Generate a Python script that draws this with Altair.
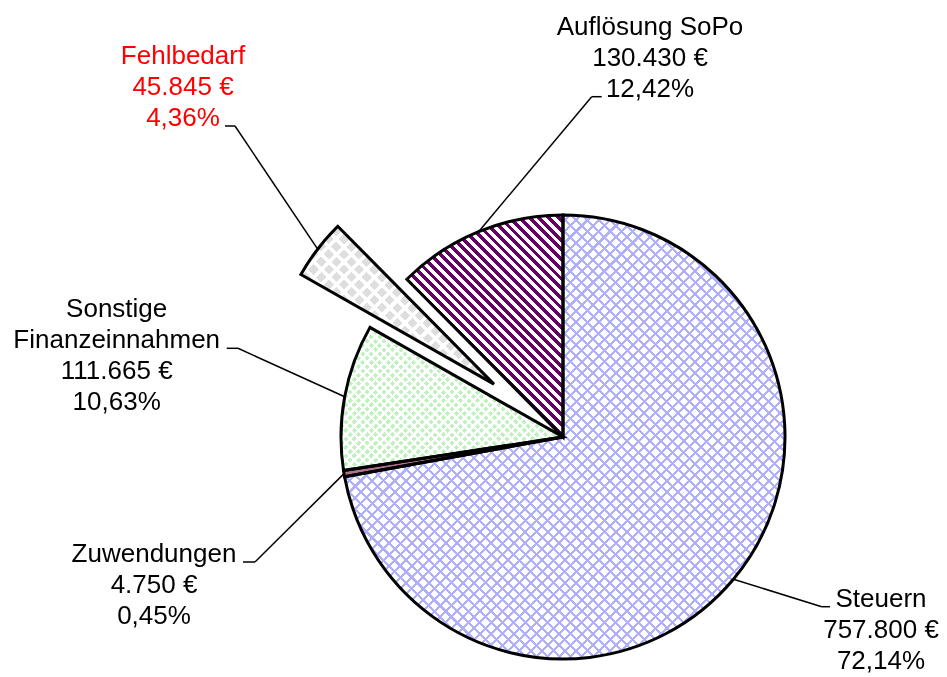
import math
import altair as alt
import pandas as pd

# ---------------- data ----------------
categories = ["Steuern", "Zuwendungen", "Sonstige Finanzeinnahmen", "Fehlbedarf", "Auflösung SoPo"]
label_names = ["Steuern", "Zuwendungen", "Sonstige\nFinanzeinnahmen", "Fehlbedarf", "Auflösung SoPo"]
values = [757800, 4750, 111665, 45845, 130430]

# ---------------- layout / style ----------------
W, H = 931, 669
CX, CY, R = 555, 429, 222
explode = {"Fehlbedarf": 87}
text_colors = {"Fehlbedarf": "#ff0000"}
# label anchor (text centre x, first baseline y), leader elbow, leader end
label_layout = {
    "Steuern":                  (873, 599,   813.7, 598.7, 822.0, 598.7),
    "Zuwendungen":              (146, 553.7, 247.0, 554.0, 235.0, 554.0),
    "Sonstige Finanzeinnahmen": (108.7, 308.7, 230.0, 340.3, 218.7, 340.3),
    "Fehlbedarf":               (175, 56.3,  227.0, 118.0, 217.0, 118.0),
    "Auflösung SoPo":           (642, 27,    583.7, 88.7, 593.7, 88.7),
}
base_fills = ["#ffffff", "#b0708f", "#ffffff", "#ffffff", "#ffffff"]

total = sum(values)


def de_int(v):
    return f"{v:,}".replace(",", ".")


def de_pct(v):
    return f"{v / total * 100:.2f}".replace(".", ",") + "%"


rows = []
for i, (c, ln, v) in enumerate(zip(categories, label_names, values)):
    tx, ty, ex, ey, hx, hy = label_layout[c]
    rows.append(dict(cat=c, order=i, value=v,
                     label=f"{ln}\n{de_int(v)} €\n{de_pct(v)}",
                     explode=explode.get(c, 0), tx=tx, ty=ty, ex=ex, ey=ey, hx=hx, hy=hy,
                     tcolor=text_colors.get(c, "#000000")))
df = pd.DataFrame(rows)

# slice angles (only used to size the fill patterns to each slice's box)
angles = {}
_cum = 0
for c, v in zip(categories, values):
    a0 = 2 * math.pi * _cum / total
    _cum += v
    angles[c] = (a0, 2 * math.pi * _cum / total)


def bbox_dims(a0, a1, r):
    pts = [(0.0, 0.0), (r * math.sin(a0), -r * math.cos(a0)), (r * math.sin(a1), -r * math.cos(a1))]
    for k in range(5):
        a = k * math.pi / 2
        if a0 < a < a1:
            pts.append((r * math.sin(a), -r * math.cos(a)))
    xs = [p[0] for p in pts]
    ys = [p[1] for p in pts]
    return max(xs) - min(xs), max(ys) - min(ys)


def stripes(on, off, n, frac, x1, y1, x2, y2):
    stops = []
    for i in range(n):
        a = i / n
        b = (i + frac) / n
        c = (i + 1) / n
        stops += [alt.GradientStop(offset=round(a, 5), color=on),
                  alt.GradientStop(offset=round(b, 5), color=on),
                  alt.GradientStop(offset=round(b, 5), color=off),
                  alt.GradientStop(offset=round(c, 5), color=off)]
    return alt.LinearGradient(gradient="linear", stops=stops, x1=x1, y1=y1, x2=x2, y2=y2)


def stripe_fill(cat, phi_deg, period, duty, on, off):
    w, h = bbox_dims(*angles[cat], R)
    phi = math.radians(phi_deg)
    g = (math.sin(phi) / h, -math.cos(phi) / w)
    corners = [(0, 0), (1, 0), (0, 1), (1, 1)]
    proj = [px * g[0] + py * g[1] for px, py in corners]
    tmin, tmax = min(proj), max(proj)
    s = corners[proj.index(tmin)]
    gg = g[0] ** 2 + g[1] ** 2
    e = (s[0] + g[0] * (tmax - tmin) / gg, s[1] + g[1] * (tmax - tmin) / gg)
    nrm = (-math.sin(phi), math.cos(phi))
    pp = [px * w * nrm[0] + py * h * nrm[1] for px, py in corners]
    count = max(1, round((max(pp) - min(pp)) / period))
    return stripes(on, off, count, duty, round(s[0], 5), round(s[1], 5), round(e[0], 5), round(e[1], 5))


base = (
    alt.Chart(df)
    .transform_joinaggregate(total="sum(value)")
    .transform_window(cum="sum(value)", sort=[alt.SortField("order")], frame=[None, 0])
    .transform_calculate(a1="2*PI*datum.cum/datum.total")
    .transform_calculate(a0="2*PI*(datum.cum-datum.value)/datum.total")
    .transform_calculate(mid="(datum.a0+datum.a1)/2")
    .transform_calculate(cx=f"{CX}+datum.explode*sin(datum.mid)")
    .transform_calculate(cy=f"{CY}-datum.explode*cos(datum.mid)")
    .transform_calculate(sx=f"datum.cx+{R}*sin(datum.mid)")
    .transform_calculate(sy=f"datum.cy-{R}*cos(datum.mid)")
)

arc_enc = dict(
    x=alt.X("cx:Q", scale=None),
    y=alt.Y("cy:Q", scale=None),
    theta=alt.Theta("a0:Q", scale=None),
    theta2=alt.Theta2("a1:Q"),
)

fill_layer = base.mark_arc(outerRadius=R, strokeWidth=0).encode(
    fill=alt.Fill("cat:N", scale=alt.Scale(domain=categories, range=base_fills), legend=None),
    **arc_enc,
)


def pattern(cat, fill, blend=None):
    kw = dict(outerRadius=R, strokeWidth=0, fill=fill)
    if blend:
        kw["blend"] = blend
    return base.transform_filter(f"datum.cat == '{cat}'").mark_arc(**kw).encode(**arc_enc)


LAV = "#b0b0fa"
GRN = "#bff2bf"
layers_pat = [
    # Steuern: blue diagonal cross-hatch
    pattern("Steuern", stripe_fill("Steuern", 45, 8.0, 0.27, LAV, "#ffffff")),
    pattern("Steuern", stripe_fill("Steuern", -45, 8.0, 0.27, LAV, "#ffffff"), "darken"),
    # Auflösung SoPo: purple diagonal stripes
    pattern("Auflösung SoPo", stripe_fill("Auflösung SoPo", 45, 6.9, 0.5, "#660066", "#ffffff")),
    # Fehlbedarf: grey diamonds
    pattern("Fehlbedarf", stripe_fill("Fehlbedarf", 45, 10.6, 0.67, "#dedede", "#ffffff")),
    pattern("Fehlbedarf", stripe_fill("Fehlbedarf", -45, 10.6, 0.67, "#dedede", "#ffffff"), "lighten"),
    # Sonstige Finanzeinnahmen: small green dots
    pattern("Sonstige Finanzeinnahmen", stripe_fill("Sonstige Finanzeinnahmen", 45, 6.0, 0.6, GRN, "#ffffff")),
    pattern("Sonstige Finanzeinnahmen", stripe_fill("Sonstige Finanzeinnahmen", -45, 6.0, 0.6, GRN, "#ffffff"), "lighten"),
]

outline = base.mark_arc(outerRadius=R, fill="#ffffff", fillOpacity=0, stroke="#000000",
                        strokeWidth=3, strokeJoin="miter").encode(**arc_enc)

leader1 = base.mark_rule(color="#000000", strokeWidth=1.5).encode(
    x=alt.X("sx:Q", scale=None), y=alt.Y("sy:Q", scale=None),
    x2=alt.X2("ex:Q"), y2=alt.Y2("ey:Q"))
leader2 = base.mark_rule(color="#000000", strokeWidth=1.5).encode(
    x=alt.X("ex:Q", scale=None), y=alt.Y("ey:Q", scale=None),
    x2=alt.X2("hx:Q"), y2=alt.Y2("hy:Q"))

labels = base.mark_text(align="center", baseline="alphabetic", fontSize=26, lineHeight=31,
                        lineBreak="\n", font="Liberation Sans").encode(
    x=alt.X("tx:Q", scale=None), y=alt.Y("ty:Q", scale=None),
    text="label:N", color=alt.Color("tcolor:N", scale=None))

chart = (
    alt.layer(fill_layer, *layers_pat, outline, leader1, leader2, labels)
    .properties(width=W, height=H, autosize=alt.AutoSizeParams(type="none"), padding=0,
                background="#ffffff")
    .configure_view(stroke=None)
)

chart.save("out.html", embed_options={"renderer": "svg", "actions": False})
